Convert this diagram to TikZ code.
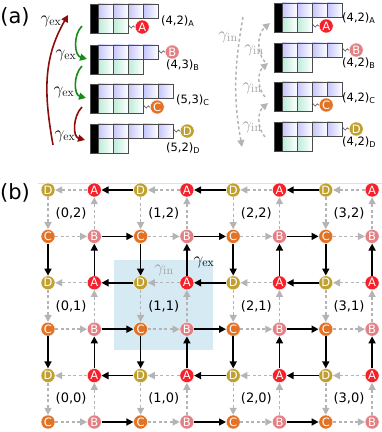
\documentclass[tikz,border=0pt]{standalone}
\usepackage{fontspec}
\setsansfont{DejaVu Sans}
\usetikzlibrary{arrows.meta,positioning,decorations.pathmorphing}

\definecolor{colA}{RGB}{245,32,42}
\definecolor{colB}{RGB}{226,128,132}
\definecolor{colC}{RGB}{226,114,38}
\definecolor{colD}{RGB}{192,160,46}
\definecolor{colGray}{RGB}{180,180,180}
\definecolor{colGammaIn}{RGB}{155,155,155}
\definecolor{exRed}{RGB}{140,12,12}
\definecolor{exGreen}{RGB}{24,140,24}
\definecolor{cellBlue}{RGB}{196,196,255}
\definecolor{cellMint}{RGB}{186,236,216}
\definecolor{plaqBlue}{RGB}{213,234,242}

% Young diagram: x0, top, boxes in row 1, boxes in row 2
\newcommand{\youngdiag}[4]{%
  \filldraw[cell, fill=black] ({#1-8},{#2-29}) rectangle (#1,#2);
  \foreach \k in {1,...,#3}
    \draw[cell, left color=cellBlue, right color=white] ({#1+15*(\k-1)},{#2-14.5}) rectangle ({#1+15*\k},#2);
  \foreach \k in {1,...,#4}
    \draw[cell, left color=cellMint, right color=white] ({#1+15*(\k-1)},{#2-29}) rectangle ({#1+15*\k},{#2-14.5});
}

\begin{document}
\begin{tikzpicture}[
    x=1pt, y=1pt,
    >={Triangle[length=7pt,width=7pt]},
    % lattice sites
    site/.style={circle, draw=white, line width=0.4pt, inner sep=0pt, minimum size=14pt, text=white, font=\sffamily\fontsize{11.5}{13}\selectfont},
    siteA/.style={site, fill=colA},
    siteB/.style={site, fill=colB},
    siteC/.style={site, fill=colC},
    siteD/.style={site, fill=colD},
    cell/.style={draw=black!70, line width=0.8pt},
    wave/.style={draw=black!70, line width=0.6pt, decorate, decoration={snake, amplitude=1.1pt, segment length=4pt}},
    tag/.style={anchor=west, inner sep=0pt, font=\sffamily\fontsize{11.5}{13}\selectfont},
    plaq/.style={font=\sffamily\fontsize{13}{15}\selectfont},
    rate/.style={inner sep=0pt, font=\LARGE},
    panel/.style={font=\sffamily\fontsize{21}{25}\selectfont},
    intra/.style={->, draw=colGray, line width=1.4pt, dash pattern=on 3pt off 2.5pt},
    inter/.style={->, draw=black, line width=1.6pt},
    hop/.style={-{Triangle[length=7pt,width=7pt]}, line width=1.6pt},
    hopin/.style={-{Triangle[length=7pt,width=7pt]}, draw=colGray, line width=1.5pt, dash pattern=on 3pt off 2.5pt}
  ]
  \useasboundingbox (0,0) rectangle (382,432);

  % ---------------- (a)
  \node[panel] (pa) at (15,415) {(a)};

  % Young diagrams, left column
  \youngdiag{98}{428}{4}{2}
  \youngdiag{98}{387}{4}{3}
  \youngdiag{98}{348}{5}{3}
  \youngdiag{98}{308}{5}{2}
  % Young diagrams, right column
  \youngdiag{282}{429}{4}{2}
  \youngdiag{282}{389}{4}{2}
  \youngdiag{282}{350}{4}{2}
  \youngdiag{282}{310}{4}{2}

  % sites at the row ends
  \coordinate (la-end) at (128,405);
  \coordinate (lb-end) at (158,380);
  \coordinate (lc-end) at (143,325);
  \coordinate (ld-end) at (173,301);
  \coordinate (ra-end) at (312,406);
  \coordinate (rb-end) at (342,382);
  \coordinate (rc-end) at (312,327);
  \coordinate (rd-end) at (342,303);
  \node[siteA, right=7pt of la-end] (la) {A};
  \node[siteB, right=7pt of lb-end] (lb) {B};
  \node[siteC, right=7pt of lc-end] (lc) {C};
  \node[siteD, right=7pt of ld-end] (ld) {D};
  \node[siteA, right=7pt of ra-end] (ra) {A};
  \node[siteB, right=7pt of rb-end] (rb) {B};
  \node[siteC, right=7pt of rc-end] (rc) {C};
  \node[siteD, right=7pt of rd-end] (rd) {D};
  \foreach \s in {la,lb,lc,ld,ra,rb,rc,rd}
    \draw[wave] (\s-end) -- (\s);

  % labels
  \node[tag] (la-tag) at (161,411) {(4,2)\textsubscript{A}};
  \node[tag] (lb-tag) at (166,367) {(4,3)\textsubscript{B}};
  \node[tag] (lc-tag) at (176,332) {(5,3)\textsubscript{C}};
  \node[tag] (ld-tag) at (166,284) {(5,2)\textsubscript{D}};
  \node[tag] (ra-tag) at (342,414) {(4,2)\textsubscript{A}};
  \node[tag] (rb-tag) at (342,369) {(4,2)\textsubscript{B}};
  \node[tag] (rc-tag) at (342,334) {(4,2)\textsubscript{C}};
  \node[tag] (rd-tag) at (342,290) {(4,2)\textsubscript{D}};

  % inter-cell hops
  \coordinate (ex0-s) at (53,287);  \coordinate (ex0-e) at (68,417);
  \coordinate (ex1-s) at (82,406);  \coordinate (ex1-e) at (87,373);
  \coordinate (ex2-s) at (82,366);  \coordinate (ex2-e) at (86,334);
  \coordinate (ex3-s) at (82,325);  \coordinate (ex3-e) at (85,292);
  \draw[hop, exRed] (ex0-s) to[out=100, in=-120] (ex0-e);
  \draw[hop, exGreen] (ex1-s) to[out=225, in=165] (ex1-e);
  \draw[hop, exGreen] (ex2-s) to[out=225, in=165] (ex2-e);
  \draw[hop, exRed] (ex3-s) to[out=225, in=165] (ex3-e);
  \node[rate] (ex0) at (51,411) {$\gamma_{\mathrm{ex}}$};
  \node[rate] (ex1) at (66,377) {$\gamma_{\mathrm{ex}}$};
  \node[rate] (ex2) at (64,340) {$\gamma_{\mathrm{ex}}$};
  \node[rate] (ex3) at (65,296) {$\gamma_{\mathrm{ex}}$};

  % intra-cell hops
  \coordinate (in0-s) at (243,415); \coordinate (in0-e) at (242,285);
  \coordinate (in1-s) at (265,370); \coordinate (in1-e) at (270,409);
  \coordinate (in2-s) at (265,335); \coordinate (in2-e) at (268,369);
  \coordinate (in3-s) at (265,295); \coordinate (in3-e) at (268,329);
  \draw[hopin] (in0-s) to[out=-100, in=100] (in0-e);
  \draw[hopin] (in1-s) to[out=130, in=220] (in1-e);
  \draw[hopin] (in2-s) to[out=130, in=220] (in2-e);
  \draw[hopin] (in3-s) to[out=130, in=220] (in3-e);
  \node[rate, text=colGammaIn] (in0) at (228,395) {$\gamma_{\mathrm{in}}$};
  \node[rate, text=colGammaIn] (in1) at (254,382) {$\gamma_{\mathrm{in}}$};
  \node[rate, text=colGammaIn] (in2) at (252,344) {$\gamma_{\mathrm{in}}$};
  \node[rate, text=colGammaIn] (in3) at (252,305) {$\gamma_{\mathrm{in}}$};

  % ---------------- (b)
  \node[panel] (pb) at (15,239) {(b)};
  \draw[black!12, line width=0.8pt] (38,249) -- (382,249);
  \fill[plaqBlue] (113.5,82) rectangle (213,172);

  % sites, intra-cell links and cell labels
  \foreach \r [evaluate=\r as \rr using int(\r+1), evaluate=\r as \j using int(2-\r/2)] in {0,2,4} {
    \foreach \c [evaluate=\c as \cc using int(\c+1), evaluate=\c as \i using int(\c/2)] in {0,2,4,6} {
      \node[siteD] (n-\c-\r) at ({48+46.3*\c},{242-46.4*\r}) {D};
      \node[siteA] (n-\cc-\r) at ({48+46.3*\cc},{242-46.4*\r}) {A};
      \node[siteC] (n-\c-\rr) at ({48+46.3*\c},{242-46.4*\rr}) {C};
      \node[siteB] (n-\cc-\rr) at ({48+46.3*\cc},{242-46.4*\rr}) {B};
      \draw[intra] (n-\cc-\r) -- (n-\c-\r);
      \draw[intra] (n-\c-\r) -- (n-\c-\rr);
      \draw[intra] (n-\c-\rr) -- (n-\cc-\rr);
      \draw[intra] (n-\cc-\rr) -- (n-\cc-\r);
      \node[plaq] (p-\i-\j) at ({48+46.3*(\c+0.5)},{242-46.4*(\r+0.5)}) {(\i,\j)};
    }
  }

  % inter-cell links
  \foreach \r [evaluate=\r as \rr using int(\r+1)] in {0,2,4} {
    \foreach \c [evaluate=\c as \cl using int(\c-1)] in {2,4,6} {
      \draw[inter] (n-\c-\r) -- (n-\cl-\r);
      \draw[inter] (n-\cl-\rr) -- (n-\c-\rr);
    }
  }
  \foreach \r [evaluate=\r as \rd using int(\r+1)] in {1,3} {
    \foreach \c [evaluate=\c as \cc using int(\c+1)] in {0,2,4,6} {
      \draw[inter] (n-\c-\r) -- (n-\c-\rd);
      \draw[inter] (n-\cc-\rd) -- (n-\cc-\r);
    }
  }

  \node[rate, text=colGammaIn] (gin) at (164,162) {$\gamma_{\mathrm{in}}$};
  \node[rate] (gex) at (204,170) {$\gamma_{\mathrm{ex}}$};
\end{tikzpicture}
\end{document}
